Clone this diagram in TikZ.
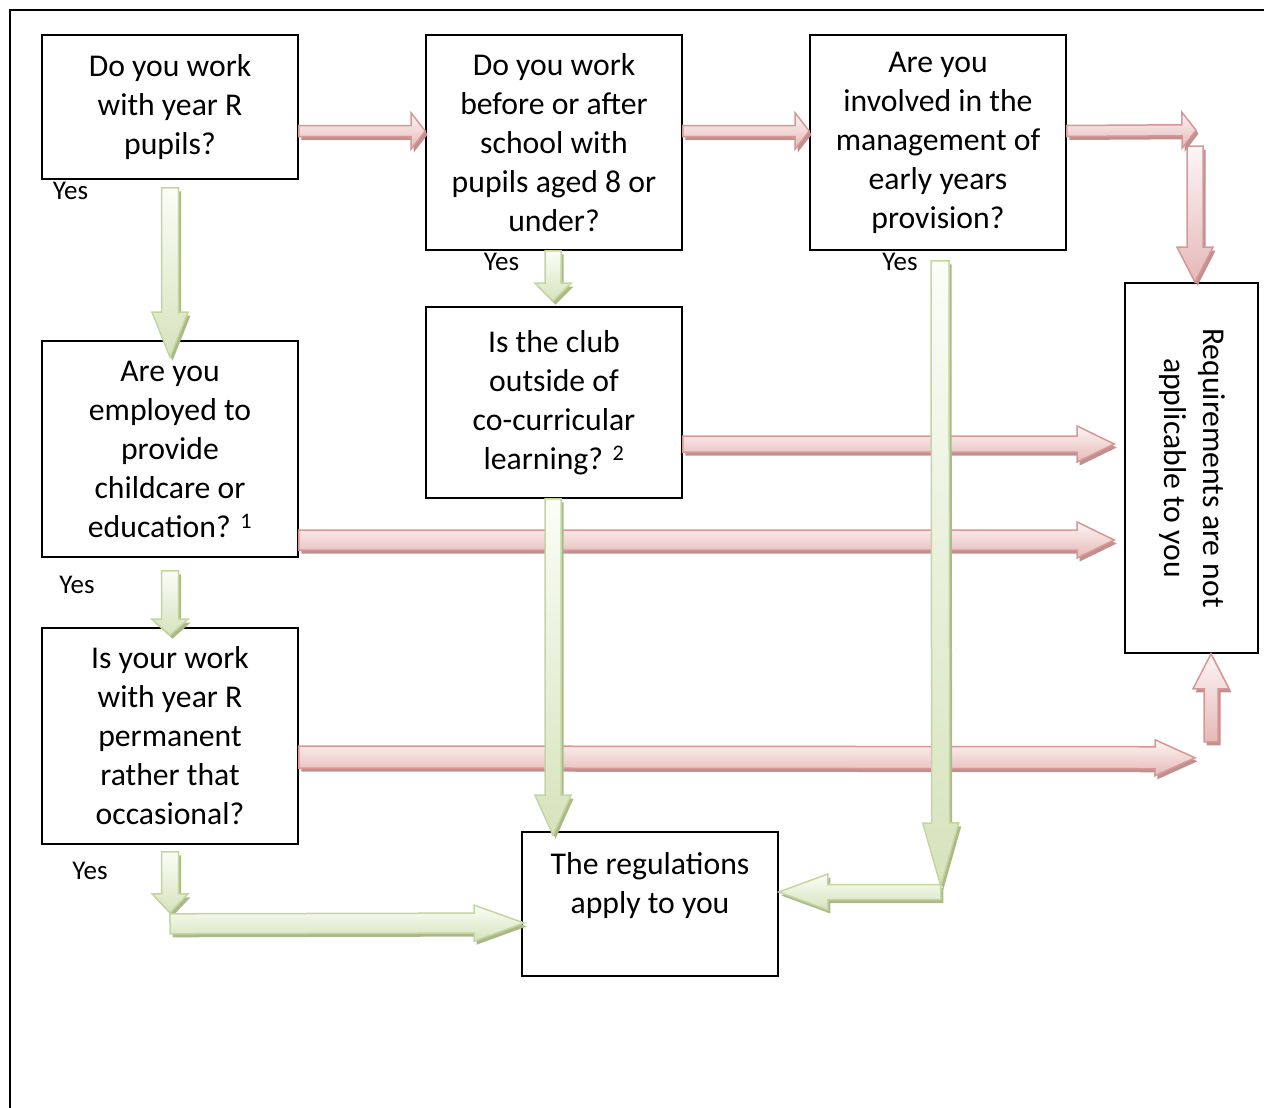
\documentclass[tikz,border=0pt]{standalone}
\usepackage{fontspec}
\setmainfont{Carlito}
\usepackage{graphicx}
\usetikzlibrary{calc}
\definecolor{redline}{RGB}{217,150,148}
\definecolor{redfill}{RGB}{229,184,183}
\definecolor{redtop}{RGB}{253,245,245}
\definecolor{redsh}{RGB}{190,145,145}
\definecolor{greenline}{RGB}{195,214,155}
\definecolor{greenfill}{RGB}{214,227,188}
\definecolor{greentop}{RGB}{251,253,247}
\definecolor{greensh}{RGB}{170,184,140}
\tikzset{qbox/.style={rectangle, draw, line width=1.6pt, inner sep=0pt, align=center, minimum width=256pt, font=\fontsize{31.7}{39}\selectfont}}
\tikzset{yes/.style={inner sep=0pt, font=\fontsize{27}{32}\selectfont}}
\tikzset{redarrow/.style={draw=redline, line width=1.5pt, top color=redtop, bottom color=redfill}}
\tikzset{redshadow/.style={fill=redsh}}
\tikzset{greenarrow/.style={draw=greenline, line width=1.5pt, top color=greentop, bottom color=greenfill}}
\tikzset{greenshadow/.style={fill=greensh}}
% #1 colour, #2 from, #3 to, #4 shaft width, #5 head length
\newcommand\blockarrow[5]{%
  \path[#1shadow] let \p1=(#2), \p2=(#3),
      \n1={veclen(\x2-\x1,\y2-\y1)}, \n2={atan2(\y2-\y1,\x2-\x1)} in
    [xshift=2.5pt, yshift=-3.5pt, shift={(\p1)}, rotate=\n2]
    (0,-#4/2) -- (\n1-#5,-#4/2) -- (\n1-#5,-18) -- (\n1,0)
    -- (\n1-#5,18) -- (\n1-#5,#4/2) -- (0,#4/2) -- cycle;
  \path[#1arrow] let \p1=(#2), \p2=(#3),
      \n1={veclen(\x2-\x1,\y2-\y1)}, \n2={atan2(\y2-\y1,\x2-\x1)} in
    [shift={(\p1)}, rotate=\n2]
    (0,-#4/2) -- (\n1-#5,-#4/2) -- (\n1-#5,-18) -- (\n1,0)
    -- (\n1-#5,18) -- (\n1-#5,#4/2) -- (0,#4/2) -- cycle;
}

\begin{document}
\begin{tikzpicture}[x=1pt,y=-1pt]
  \useasboundingbox (0,0) rectangle (1264,1108);
  \clip (0,0) rectangle (1264,1108);
  \draw[line width=1.6pt] (10,10) rectangle (1300,1200);

  \node[qbox, minimum height=144pt] (q1) at (170,107) {Do you work\\with year R\\pupils?};
  \node[qbox, minimum height=215pt] (q2) at (554,142.5) {Do you work\\before or after\\school with\\pupils aged 8 or\\under?};
  \node[qbox, minimum height=215pt, text depth=4pt] (q3) at (938,142.5) {Are you\\involved in the\\management of\\early years\\provision?};
  \node[qbox, minimum height=216pt] (q4) at (170,449) {Are you\\employed to\\provide\\childcare or\\education? \textsuperscript{1}};
  \node[qbox, minimum height=191pt] (q5) at (554,402.5) {Is the club\\outside of\\co-curricular\\learning? \textsuperscript{2}};
  \node[qbox, minimum height=216pt] (q6) at (170,736) {Is your work\\with year R\\permanent\\rather that\\occasional?};
  \node[qbox, minimum height=144pt, text depth=43pt] (ok) at (650,904) {The regulations\\apply to you};
  \node[qbox, minimum width=133pt, minimum height=370pt] (na) at (1191.5,468)
    {\rotatebox{-90}{\begin{tabular}{@{}c@{}}Requirements are not\\applicable to you\end{tabular}}};

  \foreach \x/\y/\lab in {70.5/191/y1, 501.5/262/y2, 900/262/y3, 77/585/y4, 90/871/y5} {
    \node[yes] (\lab) at (\x,\y) {Yes};
  }

  % no
  \blockarrow{red}{$(q1.east)+(0,24)$}{$(q2.west)+(0,-11.5)$}{11}{14}
  \blockarrow{red}{$(q2.east)+(0,-11.5)$}{$(q3.west)+(0,-11.5)$}{11}{14}
  \blockarrow{red}{$(na.north)+(3.5,-136)$}{$(na.north)+(3.5,0)$}{16}{35}
  \blockarrow{red}{$(q3.east)+(0,-11.5)$}{$(na.north)+(4.5,-152)$}{11}{14}
  \blockarrow{red}{$(q5.east)+(0,41.5)$}{$(na.west)+(-10,-24)$}{16}{37}
  \blockarrow{red}{$(q4.east)+(0,91)$}{$(na.west)+(-10,72)$}{20}{37}
  \blockarrow{red}{$(q6.east)+(0,21)$}{$(na.south)+(3.5,104)$}{22}{40}
  \blockarrow{red}{$(na.south)+(19.5,88)$}{$(na.south)+(19.5,0)$}{14}{35}

  % yes
  \blockarrow{green}{$(q1.south)+(0,8)$}{$(q4.north)+(0,17)$}{17}{45}
  \blockarrow{green}{$(q2.south)+(-1,0)$}{$(q5.north)+(-1,-5)$}{16}{18}
  \blockarrow{green}{$(q4.south)+(0,13)$}{$(q6.north)+(0,8)$}{17}{16}
  \blockarrow{green}{$(q5.south)+(-1,0)$}{$(ok.north)+(-97,4)$}{16}{40}
  \blockarrow{green}{$(ok.east)+(162,-12)$}{$(ok.east)+(0,-12)$}{15}{49}
  \blockarrow{green}{$(q3.south)+(2,10)$}{$(ok.east)+(162,-18)$}{18}{63}
  \blockarrow{green}{$(q6.south)+(0,7)$}{$(q6.south)+(0,68)$}{17}{19}
  \blockarrow{green}{$(q6.south)+(0,79)$}{$(ok.west)+(3,19)$}{20}{50}
\end{tikzpicture}
\end{document}
